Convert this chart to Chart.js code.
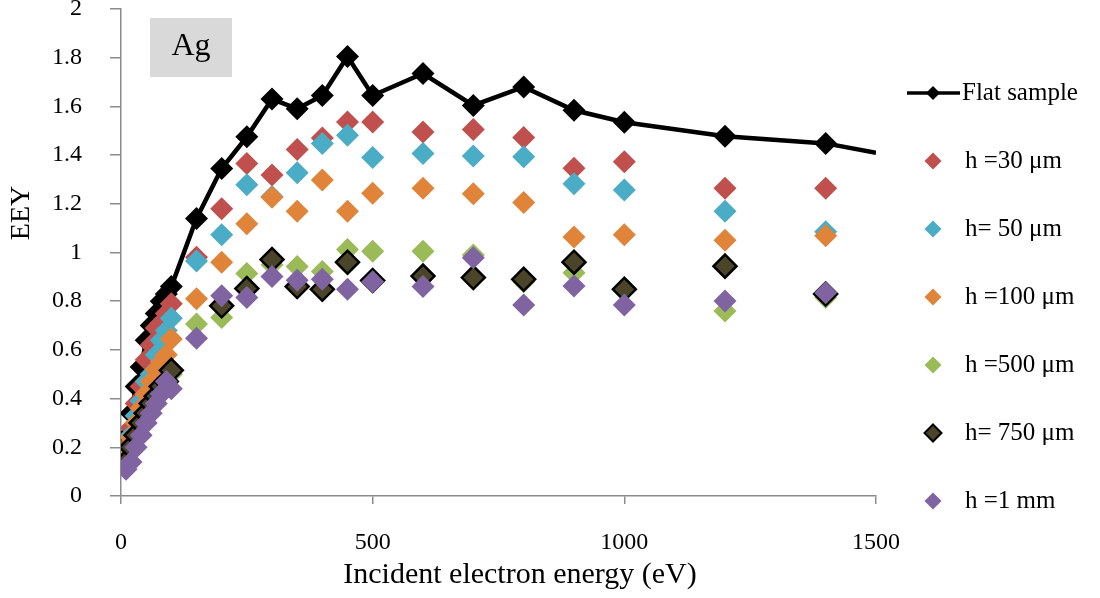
<!DOCTYPE html>
<html lang="en">

<head>
    <meta charset="UTF-8">
    <title>EEY vs incident electron energy - Ag</title>
    <script src="https://cdn.jsdelivr.net/npm/chart.js"></script>
    <style>
        html, body { margin: 0; padding: 0; background: #fff; overflow: hidden; }
        /* canvas starts a little above the page so the plot top sits near the edge */
        #wrap { position: relative; top: -5px; width: 1100px; height: 603px; }
    </style>
</head>

<body>
    <div id="wrap"><canvas id="eeyChart"></canvas></div>

    <script>
        // Incident energies (eV)
        const flatEnergy = [10, 20, 30, 40, 50, 60, 70, 80, 90, 100, 150, 200, 250, 300, 350, 400, 450, 500,
            600, 700, 800, 900, 1000, 1200, 1400, 1500];
        const energy = [10, 20, 30, 40, 50, 60, 70, 80, 90, 100, 150, 200, 250, 300, 350, 400, 450, 500,
            600, 700, 800, 900, 1000, 1200, 1400];

        // Electron emission yield per sample
        const flatEEY = [0.24, 0.34, 0.45, 0.53, 0.64, 0.70, 0.75, 0.80, 0.83, 0.86, 1.14, 1.345, 1.475, 1.63,
            1.59, 1.645, 1.805, 1.645, 1.735, 1.604, 1.68, 1.584, 1.535, 1.477, 1.448, 1.41];
        const h30EEY = [0.20, 0.28, 0.38, 0.45, 0.56, 0.62, 0.69, 0.71, 0.75, 0.79, 0.98, 1.18, 1.366, 1.318,
            1.423, 1.47, 1.536, 1.536, 1.495, 1.505, 1.472, 1.346, 1.373, 1.264, 1.264];
        const h50EEY = [0.18, 0.25, 0.33, 0.39, 0.47, 0.50, 0.58, 0.64, 0.68, 0.73, 0.965, 1.073, 1.278, 1.23,
            1.328, 1.448, 1.482, 1.39, 1.407, 1.396, 1.393, 1.282, 1.257, 1.169, 1.085];
        const h100EEY = [0.17, 0.24, 0.30, 0.36, 0.42, 0.47, 0.52, 0.55, 0.58, 0.645, 0.81, 0.96, 1.118, 1.227,
            1.169, 1.298, 1.169, 1.243, 1.264, 1.241, 1.205, 1.064, 1.073, 1.05, 1.069];
        const h500EEY = [0.13, 0.19, 0.25, 0.30, 0.34, 0.38, 0.41, 0.44, 0.47, 0.50, 0.706, 0.733, 0.914, 0.95,
            0.943, 0.922, 1.012, 1.005, 1.005, 0.99, 0.88, 0.917, 0.855, 0.76, 0.815];
        const h750EEY = [0.14, 0.20, 0.25, 0.30, 0.34, 0.38, 0.41, 0.45, 0.47, 0.516, null, 0.781, 0.852, 0.971,
            0.86, 0.849, 0.96, 0.885, 0.903, 0.897, 0.89, 0.96, 0.849, 0.944, 0.83];
        const h1mmEEY = [0.11, 0.14, 0.20, 0.25, 0.30, 0.34, 0.38, 0.42, 0.47, 0.44, 0.648, 0.822, 0.815, 0.901,
            0.886, 0.89, 0.849, 0.88, 0.86, 0.978, 0.784, 0.862, 0.784, 0.801, 0.835];

        const seriesLabels = ['Flat sample', 'h =30 \u03bcm', 'h= 50 \u03bcm', 'h =100 \u03bcm', 'h =500 \u03bcm',
            'h= 750 \u03bcm', 'h =1 mm'];
        const xTicks = [0, 500, 1000, 1500];
        const yTicks = [0, 0.2, 0.4, 0.6, 0.8, 1, 1.2, 1.4, 1.6, 1.8, 2];

        const SERIF = '"Liberation Serif", "DejaVu Serif", serif';
        const AXIS_GREY = '#8c8c8c';
        const TOP_SHIFT = 5; // matches the -5px offset of #wrap

        const toPoints = (xs, ys) => xs.map((x, i) => ({ x: x, y: ys[i] }));

        function markerSet(label, values, fill, border, order) {
            return {
                label: label,
                data: toPoints(energy, values),
                showLine: false,
                pointStyle: 'rectRot',
                pointRadius: 11.5,
                pointBackgroundColor: fill,
                pointBorderColor: border || fill,
                pointBorderWidth: border ? 2.5 : 0,
                order: order
            };
        }

        const datasets = [
            {
                label: seriesLabels[0],
                data: toPoints(flatEnergy, flatEEY),
                showLine: true,
                borderColor: '#000',
                borderWidth: 4.5,
                pointStyle: 'rectRot',
                // last point only carries the line out to the axis edge
                pointRadius: ctx => ctx.dataIndex === flatEnergy.length - 1 ? 0 : 11.5,
                pointBackgroundColor: '#000',
                pointBorderColor: '#000',
                pointBorderWidth: 0,
                order: 6
            },
            markerSet(seriesLabels[1], h30EEY, '#c0504d', null, 5),
            markerSet(seriesLabels[2], h50EEY, '#4bacc6', null, 4),
            markerSet(seriesLabels[3], h100EEY, '#e0843a', null, 3),
            markerSet(seriesLabels[4], h500EEY, '#9bbb59', null, 2),
            markerSet(seriesLabels[5], h750EEY, '#4a4529', '#000', 1),
            markerSet(seriesLabels[6], h1mmEEY, '#8064a2', null, 0)
        ];

        // Titles, "Ag" tag and the legend column on the right
        const decorations = {
            id: 'decorations',
            afterDraw(chart) {
                const ctx = chart.ctx;
                ctx.save();
                ctx.translate(0, TOP_SHIFT);

                // sample tag
                ctx.fillStyle = '#d9d9d9';
                ctx.fillRect(150, 18, 82, 59);
                ctx.fillStyle = '#000';
                ctx.font = '32px ' + SERIF;
                ctx.textAlign = 'center';
                ctx.textBaseline = 'middle';
                ctx.fillText('Ag', 191, 47);

                // axis titles
                ctx.font = '30px ' + SERIF;
                ctx.fillText('Incident electron energy (eV)', 520, 575);
                ctx.save();
                ctx.translate(22, 213);
                ctx.rotate(-Math.PI / 2);
                ctx.font = '28px ' + SERIF;
                ctx.fillText('EEY', 0, 0);
                ctx.restore();

                // legend
                ctx.textAlign = 'left';
                ctx.font = '25px ' + SERIF;
                chart.data.datasets.forEach((ds, i) => {
                    const y = 93 + i * 68;
                    const mx = 933;
                    if (ds.showLine) {
                        ctx.strokeStyle = ds.borderColor;
                        ctx.lineWidth = 3.5;
                        ctx.beginPath();
                        ctx.moveTo(907, y);
                        ctx.lineTo(960, y);
                        ctx.stroke();
                    }
                    const r = ds.showLine ? 7 : 8.5;
                    ctx.fillStyle = ds.pointBackgroundColor;
                    ctx.beginPath();
                    ctx.moveTo(mx, y - r);
                    ctx.lineTo(mx + r, y);
                    ctx.lineTo(mx, y + r);
                    ctx.lineTo(mx - r, y);
                    ctx.closePath();
                    ctx.fill();
                    if (ds.pointBorderWidth) {
                        ctx.strokeStyle = ds.pointBorderColor;
                        ctx.lineWidth = 2;
                        ctx.stroke();
                    }
                    ctx.fillStyle = '#000';
                    ctx.fillText(ds.label, ds.showLine ? 962 : 965, y);
                });
                ctx.restore();
            }
        };

        new Chart(document.getElementById('eeyChart'), {
            type: 'scatter',
            data: { datasets: datasets },
            options: {
                responsive: true,
                maintainAspectRatio: false,
                animation: false,
                layout: { padding: { top: 4, right: 224, left: 0, bottom: 0 } },
                plugins: {
                    legend: { display: false },
                    tooltip: { enabled: false }
                },
                scales: {
                    x: {
                        type: 'linear',
                        min: 0,
                        max: 1500,
                        afterBuildTicks: axis => { axis.ticks = xTicks.map(v => ({ value: v })); },
                        afterFit: axis => {
                            axis.height = 102;
                            axis.paddingLeft = 0;
                            axis.paddingRight = 0;
                        },
                        border: { display: true, color: AXIS_GREY, width: 1.5 },
                        grid: {
                            drawOnChartArea: false,
                            drawTicks: true,
                            tickLength: 8,
                            color: AXIS_GREY,
                            lineWidth: 1.5
                        },
                        ticks: {
                            color: '#000',
                            font: { family: SERIF, size: 24 },
                            padding: 24,
                            maxRotation: 0,
                            callback: v => String(v)
                        }
                    },
                    y: {
                        min: 0,
                        max: 2,
                        afterBuildTicks: axis => { axis.ticks = yTicks.map(v => ({ value: v })); },
                        afterFit: axis => {
                            axis.width = 121;
                            axis.paddingTop = 0;
                            axis.paddingBottom = 0;
                        },
                        border: { display: true, color: AXIS_GREY, width: 1.5 },
                        grid: {
                            drawOnChartArea: false,
                            drawTicks: true,
                            tickLength: 11,
                            color: AXIS_GREY,
                            lineWidth: 1.5
                        },
                        ticks: {
                            color: '#000',
                            font: { family: SERIF, size: 24 },
                            padding: 28,
                            callback: v => String(+v.toFixed(1))
                        }
                    }
                }
            },
            plugins: [decorations]
        });
    </script>
</body>

</html>
